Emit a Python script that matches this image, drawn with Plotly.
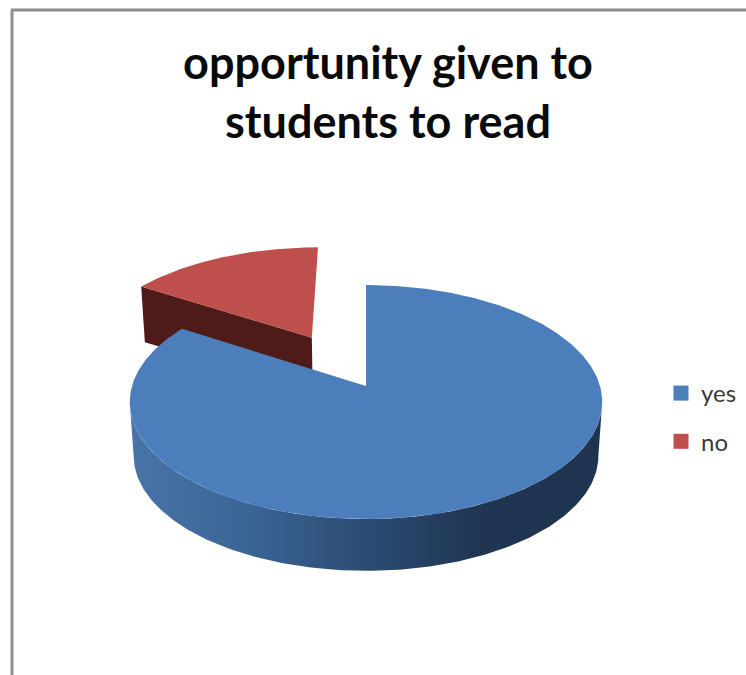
import numpy as np
import plotly.graph_objects as go

# Chart content
title_lines = ["opportunity given to", "students to read"]
categories = ["yes", "no"]
values = [84, 16]
explode = [0.0, 0.51]

# Colours
top_colors = ["#4C7EBB", "#BF4F4C"]
wall_color = "#4E1B19"
rim_scale = [
    [0.00, "#4874A8"],
    [0.25, "#3A6595"],
    [0.50, "#2C4B73"],
    [0.75, "#1F3551"],
    [1.00, "#1E3450"],
]

# Perspective of the tilted pie, in pixels of the page
CX, CY = 366.0, 386.0
RX, RY = 234.0, 114.8
TILT = 0.137
VANISH_Y = 3700.0
SQUASH = 0.9837


def project(u, v):
    """Top-face position of a point on the pie plane (unit radius, v points back)."""
    d = 1 + TILT * v
    return CX + RX * u / d, CY - RY * v / d


def drop(x, y):
    """Same point on the bottom face, pulled toward the vertical vanishing point."""
    return CX + (x - CX) * SQUASH, VANISH_Y + (y - VANISH_Y) * SQUASH


def arc(start, stop, shift=(0.0, 0.0), n=180):
    t = np.radians(np.linspace(start, stop, n))
    return project(np.sin(t) + shift[0], np.cos(t) + shift[1])


total = sum(values)
yes_end = 360 * values[0] / total
mid_no = np.radians((yes_end + 360) / 2)
shift_no = (explode[1] * np.sin(mid_no), explode[1] * np.cos(mid_no))
apex_no = project(*shift_no)
apex_yes = project(0.0, 0.0)

fig = go.Figure()

# "no" slice: inner wall, then top face
ax, ay = arc(yes_end, 360, shift_no)
wx = np.array([apex_no[0], ax[0]])
wy = np.array([apex_no[1], ay[0]])
bx, by = drop(wx, wy)
fig.add_trace(go.Scatter(
    x=np.r_[wx, bx[::-1]], y=np.r_[wy, by[::-1]],
    mode="lines", fill="toself", fillcolor=wall_color,
    line=dict(width=0), hoverinfo="skip", showlegend=False,
))
fig.add_trace(go.Scatter(
    x=np.r_[apex_no[0], ax], y=np.r_[apex_no[1], ay],
    mode="lines", fill="toself", fillcolor=top_colors[1],
    line=dict(width=0), name=categories[1], showlegend=False,
))

# "yes" slice: shaded rim between the outermost points of the ellipse, then top face
edge = np.degrees(np.arctan2(np.sqrt(1 - TILT**2), -TILT))
rx_, ry_ = arc(edge, 360 - edge)
dx_, dy_ = drop(rx_, ry_)
fig.add_trace(go.Scatter(
    x=np.r_[rx_, dx_[::-1]], y=np.r_[ry_, dy_[::-1]],
    mode="lines", fill="toself",
    fillgradient=dict(type="horizontal", colorscale=rim_scale),
    line=dict(width=0), hoverinfo="skip", showlegend=False,
))
tx, ty = arc(0, yes_end, n=400)
fig.add_trace(go.Scatter(
    x=np.r_[apex_yes[0], tx], y=np.r_[apex_yes[1], ty],
    mode="lines", fill="toself", fillcolor=top_colors[0],
    line=dict(width=0), name=categories[0], showlegend=False,
))

# Legend entries
for name, color in zip(categories, top_colors):
    fig.add_trace(go.Scatter(
        x=[None], y=[None], mode="markers", name=name, legendgroup=name,
        marker=dict(symbol="square", size=15, color=color),
    ))

fig.update_layout(
    width=746, height=675,
    margin=dict(l=0, r=0, t=0, b=0),
    paper_bgcolor="white", plot_bgcolor="white",
    xaxis=dict(range=[0, 746], visible=False, fixedrange=True),
    yaxis=dict(range=[675, 0], visible=False, fixedrange=True),
    title=dict(
        text="<br>".join(title_lines),
        x=388 / 746, xanchor="center",
        y=1 - 79 / 675, yanchor="top",
        font=dict(family="Lato", size=45, color="#0A0A0A", weight=700),
    ),
    legend=dict(
        x=661 / 746, y=1 - 371 / 675, xanchor="left", yanchor="top",
        font=dict(family="Lato", size=24, color="#3A3A3A"),
        tracegroupgap=14, itemwidth=30, bgcolor="rgba(0,0,0,0)",
    ),
    shapes=[
        dict(type="line", xref="x", yref="y", x0=12, x1=12, y0=10, y1=675,
             line=dict(color="#8E8E8E", width=3)),
        dict(type="line", xref="x", yref="y", x0=11, x1=746, y0=10, y1=10,
             line=dict(color="#8E8E8E", width=3)),
    ],
)

fig.write_html("out.html")
